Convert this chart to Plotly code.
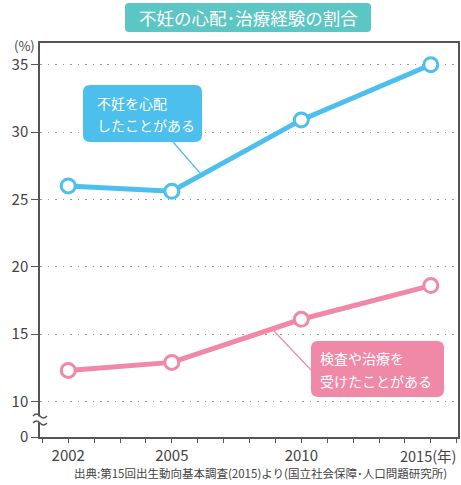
import plotly.graph_objects as go

# ---- data ----
years = ["2002", "2005", "2010", "2015"]
x_slot = [0, 4, 9, 14]          # position of each survey year on the (non-proportional) axis
worry = [26.0, 25.6, 30.9, 35.0]      # 不妊を心配したことがある (%)
treated = [12.3, 12.9, 16.1, 18.6]    # 検査や治療を受けたことがある (%)
y_ticks = [0, 10, 15, 20, 25, 30, 35]

BLUE = "#4dbfec"
PINK = "#f088a8"
TEAL = "#5bc6c3"
FONT = "Noto Sans CJK JP"

# broken axis: values >= 10 drawn linearly; 0 drawn just below the break
ZERO_POS = 7.36
def ymap(v):
    return v if v >= 10 else ZERO_POS

W, H = 461, 485
ML, MR, MT, MB = 40, 3, 43, 48
PW, PH = W - ML - MR, H - MT - MB

def px(x):
    return (x - ML) / PW
def py(y):
    return (H - MB - y) / PH

def rrect(x0, y0, x1, y1, r):
    pts = (f"M {px(x0 + r)} {py(y0)} L {px(x1 - r)} {py(y0)} "
           f"Q {px(x1)} {py(y0)} {px(x1)} {py(y0 + r)} "
           f"L {px(x1)} {py(y1 - r)} Q {px(x1)} {py(y1)} {px(x1 - r)} {py(y1)} "
           f"L {px(x0 + r)} {py(y1)} Q {px(x0)} {py(y1)} {px(x0)} {py(y1 - r)} "
           f"L {px(x0)} {py(y0 + r)} Q {px(x0)} {py(y0)} {px(x0 + r)} {py(y0)} Z")
    return pts

fig = go.Figure()

for vals, col in [(worry, BLUE), (treated, PINK)]:
    fig.add_trace(go.Scatter(
        x=x_slot, y=[ymap(v) for v in vals], mode="lines+markers",
        line=dict(color=col, width=5),
        marker=dict(size=14, color="white", line=dict(color=col, width=3)),
        showlegend=False, hoverinfo="skip", cliponaxis=False))

shapes = []
# title box
shapes.append(dict(type="path", xref="paper", yref="paper", path=rrect(125, 3, 371, 32, 4),
                   fillcolor=TEAL, line=dict(width=0), layer="above"))
# callout connectors
shapes.append(dict(type="line", xref="paper", yref="paper", x0=px(173), y0=py(142), x1=px(200), y1=py(173),
                   line=dict(color=BLUE, width=1.2), layer="above"))
shapes.append(dict(type="line", xref="paper", yref="paper", x0=px(273), y0=py(330), x1=px(312), y1=py(371),
                   line=dict(color=PINK, width=1.2), layer="above"))
# callout boxes
shapes.append(dict(type="path", xref="paper", yref="paper", path=rrect(83, 85, 202, 142, 7),
                   fillcolor=BLUE, line=dict(width=0), layer="above"))
shapes.append(dict(type="path", xref="paper", yref="paper", path=rrect(311, 341, 444, 397, 7),
                   fillcolor=PINK, line=dict(width=0), layer="above"))
# axis break mark
shapes.append(dict(type="rect", xref="paper", yref="paper", x0=px(35), x1=px(45), y0=py(416.5), y1=py(422.5),
                   fillcolor="white", line=dict(width=0), layer="above"))
for yy in (416, 423):
    shapes.append(dict(type="path", xref="paper", yref="paper",
                       path=(f"M {px(33)} {py(yy)} Q {px(36.5)} {py(yy - 4)} {px(40)} {py(yy)} "
                             f"Q {px(43.5)} {py(yy + 4)} {px(47)} {py(yy)}"),
                       line=dict(color="#555", width=1.3), layer="above"))

annotations = [
    dict(text="不妊の心配･治療経験の割合", x=px(248), y=py(17.5), xref="paper", yref="paper",
         showarrow=False, font=dict(family=FONT, size=17.5, color="white"), xanchor="center", yanchor="middle"),
    dict(text="不妊を心配", x=px(95), y=py(103), xref="paper", yref="paper", showarrow=False,
         font=dict(family=FONT, size=14, color="white"), xanchor="left", yanchor="middle"),
    dict(text="したことがある", x=px(95), y=py(125), xref="paper", yref="paper", showarrow=False,
         font=dict(family=FONT, size=14, color="white"), xanchor="left", yanchor="middle"),
    dict(text="検査や治療を", x=px(318), y=py(358), xref="paper", yref="paper", showarrow=False,
         font=dict(family=FONT, size=14, color="white"), xanchor="left", yanchor="middle"),
    dict(text="受けたことがある", x=px(318), y=py(381), xref="paper", yref="paper", showarrow=False,
         font=dict(family=FONT, size=14, color="white"), xanchor="left", yanchor="middle"),
    dict(text="(%)", x=px(24), y=py(45), xref="paper", yref="paper", showarrow=False,
         font=dict(family=FONT, size=13, color="#444"), xanchor="center", yanchor="middle"),
    dict(text="2015(年)", x=px(459), y=py(455), xref="paper", yref="paper", showarrow=False,
         font=dict(family=FONT, size=14.5, color="#444"), xanchor="right", yanchor="middle"),
    dict(text="出典:第15回出生動向基本調査(2015)より(国立社会保障･人口問題研究所)",
         x=px(72), y=py(473), xref="paper", yref="paper", showarrow=False,
         font=dict(family=FONT, size=11.5, color="#444"), xanchor="left", yanchor="middle"),
]

fig.update_layout(
    width=W, height=H, margin=dict(l=ML, r=MR, t=MT, b=MB, autoexpand=False),
    paper_bgcolor="white", plot_bgcolor="white",
    font=dict(family=FONT, color="#444"),
    shapes=shapes, annotations=annotations,
    xaxis=dict(range=[-1.09, 15.05], tickmode="array", tickvals=x_slot,
               ticktext=years[:-1] + [""], showgrid=False, zeroline=False,
               showline=True, linecolor="#555", linewidth=1.5, mirror=True,
               ticks="outside", ticklen=4, tickcolor="#555", tickwidth=1,
               tickfont=dict(family=FONT, size=15, color="#444"),
               minor=dict(tickmode="linear", tick0=0, dtick=1, ticks="outside", ticklen=4,
                          tickcolor="#555", tickwidth=1, showgrid=False),
               fixedrange=True, automargin=False),
    yaxis=dict(range=[ZERO_POS, 36.61], tickmode="array", tickvals=[ymap(v) for v in y_ticks],
               ticktext=[str(v) for v in y_ticks], showgrid=True, gridcolor="#999",
               griddash="1.5px,6px", gridwidth=1.2, zeroline=False,
               showline=True, linecolor="#555", linewidth=1.5, mirror=True,
               ticks="outside", ticklen=7, tickcolor="#555", tickwidth=1,
               tickfont=dict(family=FONT, size=15, color="#444"), fixedrange=True, automargin=False),
)

fig.write_html("out.html", config={"displayModeBar": False},
               post_script="document.body.style.margin='0';document.body.style.overflow='hidden';")
